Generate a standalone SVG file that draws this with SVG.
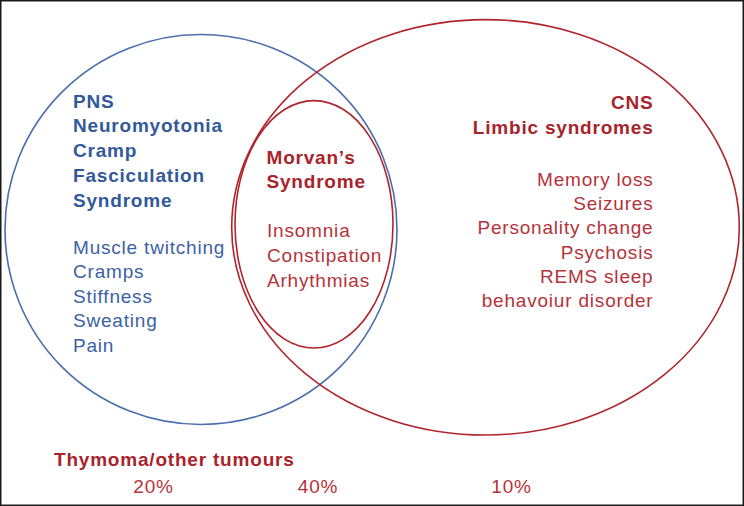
<svg xmlns="http://www.w3.org/2000/svg" width="744" height="506" viewBox="0 0 744 506">
<style>
text{font-family:"Liberation Sans",Arial,Helvetica,sans-serif;font-size:19px;letter-spacing:0.8px}
.b{font-weight:bold}
.blue{fill:#3b62a3}
.blueb{fill:#33599b}
.red{fill:#b5333a}
.redb{fill:#a9232b}
.cb{fill:none;stroke:#4a6fad;stroke-width:1.6}
.cr{fill:none;stroke:#b0242c;stroke-width:1.6}
.end{text-anchor:end}
.mid{text-anchor:middle}
</style>
<rect x="0.75" y="0.75" width="742.5" height="504.5" fill="#fff" stroke="#1a1a1a" stroke-width="1.5"/>
<g id="pns">
<ellipse class="cb" cx="201" cy="229.5" rx="196" ry="195"/>
<text class="b blueb" x="73" y="107.5">PNS</text>
<text class="b blueb" x="73" y="132.3">Neuromyotonia</text>
<text class="b blueb" x="73" y="157">Cramp</text>
<text class="b blueb" x="73" y="181.8">Fasciculation</text>
<text class="b blueb" x="73" y="206.5">Syndrome</text>
<text class="blue" x="73" y="253.5">Muscle twitching</text>
<text class="blue" x="73" y="278.2">Cramps</text>
<text class="blue" x="73" y="302.5">Stiffness</text>
<text class="blue" x="73" y="327">Sweating</text>
<text class="blue" x="73" y="351.7">Pain</text>
</g>
<g id="cns">
<ellipse class="cr" cx="485.5" cy="227.3" rx="253.8" ry="207.7"/>
<text class="b redb end" x="653.5" y="109.3">CNS</text>
<text class="b redb end" x="653.5" y="134">Limbic syndromes</text>
<text class="red end" x="653.5" y="186">Memory loss</text>
<text class="red end" x="653.5" y="210.2">Seizures</text>
<text class="red end" x="653.5" y="234.4">Personality change</text>
<text class="red end" x="653.5" y="258.6">Psychosis</text>
<text class="red end" x="653.5" y="282.8">REMS sleep</text>
<text class="red end" x="653.5" y="307">behavoiur disorder</text>
</g>
<g id="morvan">
<ellipse class="cr" cx="314" cy="224.3" rx="79" ry="123.7"/>
<text class="b redb" x="266.5" y="164">Morvan’s</text>
<text class="b redb" x="266.5" y="188.3">Syndrome</text>
<text class="red" x="267" y="236.7">Insomnia</text>
<text class="red" x="267" y="261.7">Constipation</text>
<text class="red" x="267" y="286.7">Arhythmias</text>
</g>
<g id="tumours">
<text class="b redb" x="54" y="465.7">Thymoma/other tumours</text>
<text class="red mid" x="153.5" y="492.5">20%</text>
<text class="red mid" x="318" y="492.5">40%</text>
<text class="red mid" x="511.5" y="492.5">10%</text>
</g>
</svg>
